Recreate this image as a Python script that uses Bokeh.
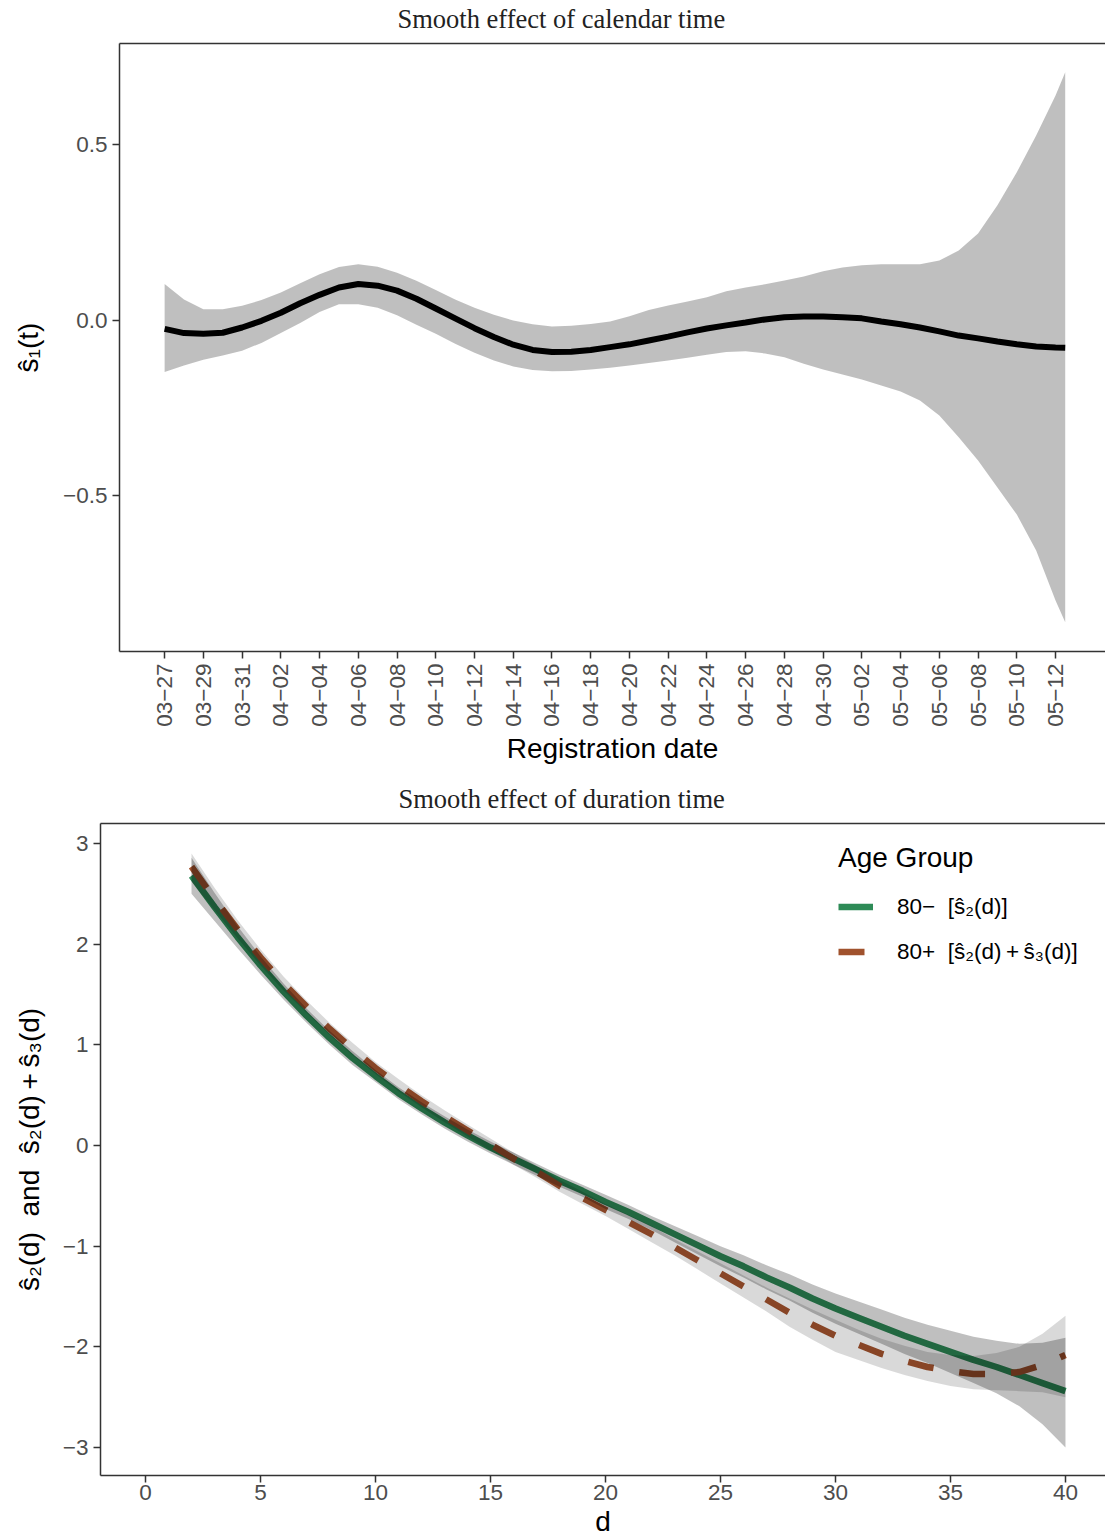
from bokeh.plotting import figure
from bokeh.models import Range1d, FixedTicker, LinearAxis, Legend, LegendItem
from bokeh.embed import file_html
from bokeh.resources import INLINE

# ---------------- top panel: smooth effect of calendar time ----------------
day = [0, 1, 2, 3, 4, 5, 6, 7, 8, 9, 10, 11, 12, 13, 14, 15, 16, 17, 18, 19,
       20, 21, 22, 23, 24, 25, 26, 27, 28, 29, 30, 31, 32, 33, 34, 35, 36, 37,
       38, 39, 40, 41, 42, 43, 44, 45, 46, 46.5]
s1_fit = [-0.024, -0.036, -0.038, -0.035, -0.020, -0.001, 0.022, 0.049, 0.073,
          0.094, 0.104, 0.099, 0.085, 0.062, 0.034, 0.006, -0.022, -0.047,
          -0.069, -0.084, -0.090, -0.089, -0.084, -0.076, -0.068, -0.057,
          -0.046, -0.034, -0.023, -0.014, -0.006, 0.003, 0.009, 0.011, 0.011,
          0.009, 0.006, -0.003, -0.011, -0.020, -0.031, -0.043, -0.051,
          -0.060, -0.068, -0.074, -0.077, -0.078]
s1_upper = [0.104, 0.060, 0.032, 0.032, 0.042, 0.058, 0.080, 0.106, 0.132,
            0.152, 0.160, 0.153, 0.136, 0.113, 0.087, 0.060, 0.036, 0.016,
            0.000, -0.011, -0.017, -0.015, -0.010, -0.003, 0.012, 0.030,
            0.043, 0.054, 0.066, 0.083, 0.094, 0.103, 0.114, 0.125, 0.140,
            0.151, 0.157, 0.160, 0.160, 0.160, 0.171, 0.199, 0.248, 0.328,
            0.422, 0.527, 0.641, 0.707]
s1_lower = [-0.147, -0.128, -0.112, -0.100, -0.086, -0.064, -0.036, -0.007,
            0.024, 0.046, 0.046, 0.036, 0.015, -0.012, -0.038, -0.066, -0.092,
            -0.114, -0.131, -0.141, -0.145, -0.144, -0.140, -0.135, -0.128,
            -0.121, -0.114, -0.106, -0.098, -0.090, -0.088, -0.094, -0.105,
            -0.123, -0.140, -0.154, -0.168, -0.185, -0.202, -0.228, -0.271,
            -0.333, -0.399, -0.476, -0.553, -0.655, -0.798, -0.860]
date_tick_days = [0, 2, 4, 6, 8, 10, 12, 14, 16, 18, 20, 22, 24, 26, 28, 30,
                  32, 34, 36, 38, 40, 42, 44, 46]
date_tick_labels = ["03−27", "03−29", "03−31", "04−02", "04−04", "04−06",
                    "04−08", "04−10", "04−12", "04−14", "04−16", "04−18",
                    "04−20", "04−22", "04−24", "04−26", "04−28", "04−30",
                    "05−02", "05−04", "05−06", "05−08", "05−10", "05−12"]
top_y_ticks = [-0.5, 0.0, 0.5]
top_y_labels = ["−0.5", "0.0", "0.5"]

# ---------------- bottom panel: smooth effect of duration time ----------------
d = [2, 3, 4, 5, 6, 7, 8, 9, 10, 11, 12, 13, 14, 15, 16, 17, 18, 19, 20, 21,
     22, 23, 24, 25, 26, 27, 28, 29, 30, 31, 32, 33, 34, 35, 36, 37, 38, 39, 40]
s2_fit = [2.68, 2.37, 2.07, 1.79, 1.53, 1.29, 1.07, 0.87, 0.69, 0.52, 0.37,
          0.23, 0.10, -0.02, -0.13, -0.24, -0.35, -0.45, -0.56, -0.66, -0.77,
          -0.88, -0.99, -1.10, -1.20, -1.31, -1.41, -1.52, -1.62, -1.71,
          -1.80, -1.89, -1.97, -2.05, -2.13, -2.20, -2.28, -2.36, -2.44]
s2_upper = [2.86, 2.51, 2.18, 1.88, 1.61, 1.36, 1.14, 0.94, 0.75, 0.58, 0.43,
            0.29, 0.16, 0.04, -0.07, -0.18, -0.29, -0.39, -0.49, -0.59, -0.70,
            -0.80, -0.90, -1.00, -1.09, -1.19, -1.28, -1.38, -1.47, -1.55,
            -1.63, -1.71, -1.78, -1.84, -1.90, -1.94, -1.97, -1.96, -1.91]
s2_lower = [2.50, 2.23, 1.96, 1.70, 1.45, 1.22, 1.00, 0.80, 0.63, 0.46, 0.31,
            0.17, 0.04, -0.08, -0.19, -0.30, -0.41, -0.51, -0.63, -0.73, -0.84,
            -0.96, -1.08, -1.20, -1.31, -1.43, -1.54, -1.66, -1.77, -1.87,
            -1.97, -2.07, -2.16, -2.26, -2.36, -2.46, -2.59, -2.77, -3.00]
s23_fit = [2.77, 2.45, 2.15, 1.87, 1.61, 1.38, 1.16, 0.96, 0.77, 0.60, 0.44,
           0.29, 0.15, 0.01, -0.13, -0.26, -0.40, -0.52, -0.64, -0.76, -0.88,
           -1.01, -1.14, -1.27, -1.40, -1.53, -1.66, -1.78, -1.89, -1.98,
           -2.07, -2.14, -2.20, -2.24, -2.27, -2.27, -2.25, -2.18, -2.08]
s23_upper = [2.90, 2.56, 2.24, 1.95, 1.68, 1.44, 1.22, 1.02, 0.83, 0.66, 0.50,
             0.35, 0.21, 0.07, -0.07, -0.20, -0.34, -0.46, -0.58, -0.69,
             -0.80, -0.93, -1.05, -1.17, -1.29, -1.41, -1.52, -1.63, -1.73,
             -1.83, -1.92, -1.99, -2.05, -2.08, -2.09, -2.06, -2.00, -1.87,
             -1.69]
s23_lower = [2.62, 2.34, 2.06, 1.79, 1.54, 1.32, 1.10, 0.90, 0.71, 0.54, 0.38,
             0.23, 0.09, -0.05, -0.19, -0.32, -0.46, -0.58, -0.70, -0.83,
             -0.96, -1.09, -1.23, -1.37, -1.51, -1.65, -1.80, -1.93, -2.05,
             -2.13, -2.21, -2.28, -2.34, -2.39, -2.42, -2.43, -2.44, -2.45,
             -2.50]
d_ticks = [0, 5, 10, 15, 20, 25, 30, 35, 40]
bottom_y_ticks = [-3, -2, -1, 0, 1, 2, 3]
bottom_y_labels = ["−3", "−2", "−1", "0", "1", "2", "3"]

SANS = "Liberation Sans"
SERIF = "Liberation Serif"
AX = "#333333"


def style_axis(ax, label=None):
    ax.axis_line_color = AX
    ax.axis_line_width = 1.5
    ax.major_tick_line_color = AX
    ax.major_tick_line_width = 1.5
    ax.major_tick_out = 7
    ax.major_tick_in = 0
    ax.minor_tick_line_color = None
    ax.major_label_text_font = SANS
    ax.major_label_text_font_size = "22.5px"
    ax.major_label_text_color = "#4d4d4d"
    ax.major_label_standoff = 5
    ax.axis_label_text_font = SANS
    ax.axis_label_text_font_size = "28px"
    ax.axis_label_text_font_style = "normal"
    ax.axis_label_text_color = "black"
    if label is not None:
        ax.axis_label = label


def add_top_border(p):
    # top border line of the panel; a blank 1px label keeps a gap to the title
    ax = LinearAxis(ticker=FixedTicker(ticks=[]), axis_line_color=AX,
                    axis_line_width=1.5, major_tick_line_color=None,
                    minor_tick_line_color=None, axis_label="\u00a0",
                    axis_label_text_font_size="1px", axis_label_standoff=6)
    p.add_layout(ax, "above")


def style_title(p, text, offset):
    p.title.text = text
    p.title.align = "left"
    p.title.offset = offset
    p.title.standoff = 0
    p.title.text_font = SERIF
    p.title.text_font_size = "26.5px"
    p.title.text_font_style = "normal"
    p.title.text_color = "#222222"


# ---------------- top figure ----------------
top = figure(width=1105, height=775, x_range=Range1d(-2.33, 48.58),
             y_range=Range1d(-0.943, 0.789), output_backend="svg",
             toolbar_location=None, min_border_left=119, min_border_right=0,
             min_border_top=43, min_border_bottom=124)
top.outline_line_color = None
top.xgrid.visible = False
top.ygrid.visible = False
style_title(top, "Smooth effect of calendar time", 278)

top.varea(x=day, y1=s1_lower, y2=s1_upper, fill_color="black", fill_alpha=0.25)
top.line(x=day, y=s1_fit, line_color="black", line_width=6)

bx = top.below[0]
bx.ticker = FixedTicker(ticks=date_tick_days)
bx.major_label_overrides = dict(zip(date_tick_days, date_tick_labels))
style_axis(bx, "Registration date")
bx.major_label_orientation = 3.14159265 / 2
bx.axis_label_standoff = 3

ly = top.left[0]
ly.ticker = FixedTicker(ticks=top_y_ticks)
ly.major_label_overrides = dict(zip(top_y_ticks, top_y_labels))
style_axis(ly, "ŝ₁(t)")
ly.axis_label_standoff = 16
add_top_border(top)

# ---------------- bottom figure ----------------
bot = figure(width=1105, height=765, x_range=Range1d(-1.957, 41.74),
             y_range=Range1d(-3.278, 3.199), output_backend="svg",
             toolbar_location=None, min_border_left=100, min_border_right=0,
             min_border_top=48, min_border_bottom=65)
bot.outline_line_color = None
bot.xgrid.visible = False
bot.ygrid.visible = False
style_title(bot, "Smooth effect of duration time", 298)

GREEN = "#2E8B57"
BROWN = "#A0522D"
g_line = bot.line(x=d, y=s2_fit, line_color=GREEN, line_width=6.5)
b_line = bot.line(x=d, y=s23_fit, line_color=BROWN, line_width=6.5,
                  line_dash="26 26")
bot.varea(x=d, y1=s2_lower, y2=s2_upper, fill_color="black", fill_alpha=0.25)
bot.varea(x=d, y1=s23_lower, y2=s23_upper, fill_color="black", fill_alpha=0.15)

bbx = bot.below[0]
bbx.ticker = FixedTicker(ticks=d_ticks)
style_axis(bbx, "d")
bbx.major_label_standoff = 2
bbx.axis_label_standoff = 3

bly = bot.left[0]
bly.ticker = FixedTicker(ticks=bottom_y_ticks)
bly.major_label_overrides = dict(zip(bottom_y_ticks, bottom_y_labels))
style_axis(bly, "ŝ₂(d)\u00a0\u00a0and\u00a0\u00a0ŝ₂(d)\u2009+\u2009ŝ₃(d)")
bly.axis_label_standoff = 15
add_top_border(bot)

legend = Legend(items=[LegendItem(label="80−\u00a0\u00a0[ŝ₂(d)]", renderers=[g_line]),
                       LegendItem(label="80+\u00a0\u00a0[ŝ₂(d)\u2009+\u2009ŝ₃(d)]",
                                  renderers=[b_line])],
                location=(738, 501), title="Age Group",
                title_text_font=SANS, title_text_font_size="28px",
                title_text_font_style="normal", title_text_color="black",
                title_standoff=10,
                label_text_font=SANS, label_text_font_size="22.5px",
                label_text_color="black",
                glyph_width=35, glyph_height=45, label_height=45,
                label_standoff=24, spacing=0, padding=0, margin=0,
                border_line_color=None, background_fill_alpha=0)
bot.add_layout(legend)

open("out.html", "w").write(file_html([top, bot], INLINE))
